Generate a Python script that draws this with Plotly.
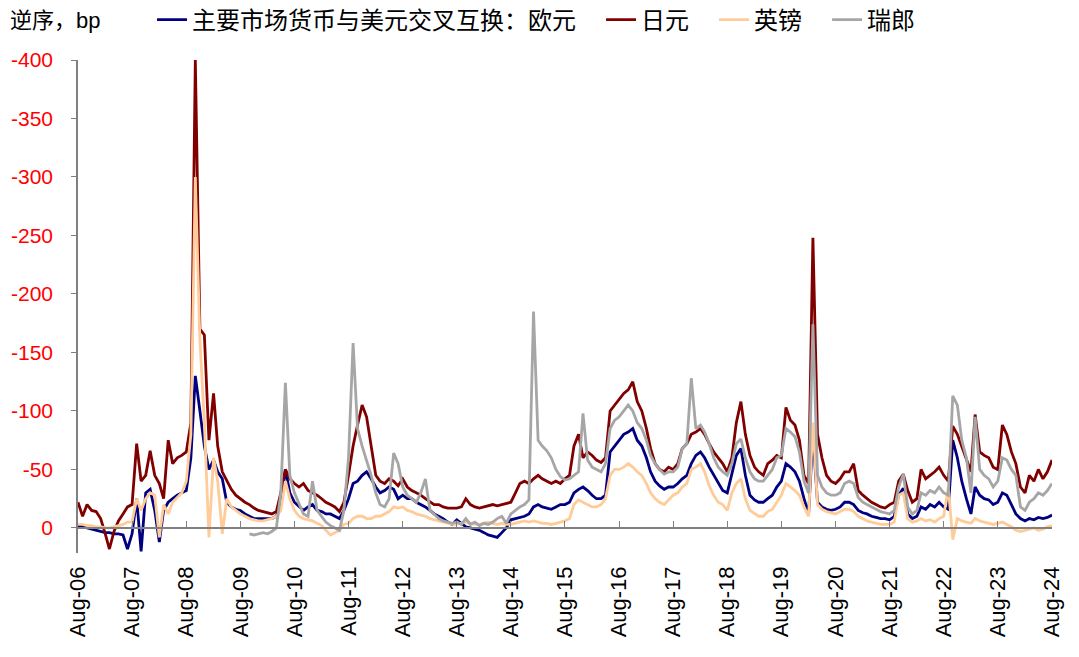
import pandas as pd
import plotly.graph_objects as go

# monthly points, Aug-06 .. Aug-24 (bp, reversed axis)
months = pd.date_range("2006-08-01", "2024-08-01", freq="MS")

eur = [
    -2, -1, 0, 1, 2, 3, 4, 4, 5, 5, 6, 18,
    5, -25, 20, -30, -33, -15, 12, -15, -22, -25, -28, -30,
    -32, -60, -130, -100, -70, -50, -58, -48, -42, -22, -18, -16,
    -15, -12, -10, -8, -8, -8, -8, -8, -10, -20, -50, -30,
    -22, -18, -15, -18, -20, -15, -14, -12, -12, -10, -8, -15,
    -25, -38, -40, -45, -48, -42, -35, -30, -32, -35, -33, -25,
    -28, -25, -25, -22, -20, -18, -15, -12, -10, -8, -5, -3,
    -7, -4, -1, 0, 1, 2, 4, 6, 7, 8, 4, 0,
    -7, -8, -9, -10, -12, -18, -20, -18, -17, -16, -18, -20,
    -20, -22, -30, -33, -35, -32, -28, -25, -25, -28, -65, -70,
    -75, -80, -82, -85, -75, -70, -60, -48, -40, -36, -33, -35,
    -35, -38, -42, -45, -55, -62, -65, -60, -52, -45, -38, -32,
    -30, -45, -62, -68, -45, -28, -24, -22, -22, -25, -28, -35,
    -40, -55, -52, -48, -40, -25, -12, -80, -22, -18, -16, -15,
    -16, -18, -22, -22, -20, -15, -13, -12, -10, -9, -8, -8,
    -7, -10, -28, -34, -12, -8, -10, -18, -16, -20, -18, -22,
    -18, -16, -75, -60, -40, -25, -12, -35, -28, -25, -24, -20,
    -22, -30, -28, -20, -12, -8, -6, -8, -7, -9, -8, -9,
    -11,
]

jpy = [
    -22, -10, -20, -15, -14, -8, 5, 18, 3, -6, -12, -18,
    -20, -72, -40, -45, -66, -45, -38, -25, -75, -55, -60, -62,
    -65, -90, -400, -170, -165, -75, -115, -70, -48, -40, -33, -28,
    -25, -22, -20, -17, -15, -14, -13, -12, -14, -30, -50, -42,
    -38, -35, -38, -32, -30, -28, -25, -22, -20, -18, -14, -22,
    -45, -70, -88, -105, -95, -70, -45, -40, -38, -42, -40, -36,
    -42, -35, -32, -30, -28, -25, -22, -20, -20, -18, -17, -17,
    -17, -18, -25, -20, -18, -17, -18, -19, -20, -19, -20, -21,
    -22, -30, -38, -40, -38, -42, -45, -42, -40, -38, -40, -38,
    -42, -45, -70, -80, -60, -65, -62, -58, -56, -60, -100, -105,
    -110, -115, -118, -125, -108, -100, -85, -68, -55, -50, -48, -52,
    -50, -55, -68, -72, -80, -82, -85, -80, -72, -65, -60, -55,
    -48, -60, -90, -108, -80, -62, -52, -48, -45, -55, -58, -62,
    -60, -103, -92, -88, -75, -45, -38, -248, -80, -60, -45, -40,
    -38, -42, -48, -48, -55, -32, -28, -25, -22, -20, -18, -17,
    -20, -22, -40, -46, -32, -22, -25, -50, -42, -45, -48, -52,
    -45, -40, -87, -80, -70, -58, -48, -97, -65, -62, -60, -52,
    -50, -88, -80, -65, -55, -35, -30, -45, -40, -50, -42, -48,
    -58,
]

gbp = [
    -3, -3, -2, -2, -1, -1, 0, 0, -1, -2, -3, -5,
    -5, -25, -15, -25, -30, -28, 8, -20, -12, -22, -26, -30,
    -40, -80, -300, -160, -90, 8, -60, -40, 5, -25, -18, -15,
    -12, -10, -8, -7, -6, -6, -7, -8, -10, -15, -40, -25,
    -15, -10, -8, -7, -6, -4, -2, 2, 6, 4, 2, -3,
    -4, -8, -10, -10, -8, -8, -10, -10, -12, -14, -18, -17,
    -18, -15, -14, -12, -11, -10, -8, -7, -6, -5, -4, -3,
    -3, -4, -5, -4, -3, -3, -4, -5, -4, -3, -4, -3,
    -3, -4, -5, -6, -5, -6, -5, -4, -4, -3, -4, -5,
    -6, -8, -20, -24, -22, -20, -18, -18, -20, -25, -45, -50,
    -50, -52, -55, -52, -48, -45, -38, -30, -25, -22, -20, -24,
    -28, -30, -35, -38, -50, -52, -55, -48, -36, -28, -22, -20,
    -15, -30, -38, -42, -25, -15, -12, -10, -10, -14, -16, -22,
    -28, -38, -35, -32, -28, -18, -10, -90, -20, -16, -14, -13,
    -12, -14, -16, -16, -14, -10, -8, -6, -5, -4, -3, -3,
    -3, -5, -28, -30, -8, -5, -6, -8, -6, -7, -5, -8,
    -10, -35, 10, -8, -6, -5, -4, -8, -6, -5, -4, -3,
    -4, -5, -3, -1, 2, 3, 2, 1, 0, 2, 1, -1,
    -2,
]

# CHF series starts in Oct-09
chf = [None] * 38 + [
    5, 6, 5, 4, 5, 3, 0, -30, -124, -45,
    -30, -20, -12, -10, -40, -15, -10, -5, -2, 0, 2, -15,
    -60, -158, -85, -70, -58, -45, -30, -20, -18, -25, -64, -55,
    -35, -28, -25, -22, -30, -42, -15, -12, -8, -6, -5, -4,
    -5, -3, -8, -3, -5, -2, -4, -3, -5, -8, -10, -4,
    -12, -15, -18, -20, -24, -185, -75, -70, -66, -60, -50, -44,
    -41, -42, -45, -48, -98, -58, -52, -50, -48, -55, -85, -92,
    -95, -100, -105, -100, -90, -85, -75, -62, -55, -50, -46, -48,
    -48, -52, -68, -72, -128, -85, -88, -82, -72, -60, -52, -48,
    -45, -55, -72, -76, -60, -48, -42, -40, -40, -45, -50, -60,
    -62, -85, -82, -78, -65, -40, -30, -174, -45, -35, -30, -28,
    -28, -30, -38, -40, -38, -26, -22, -20, -18, -16, -14, -13,
    -12, -15, -35, -46, -18, -12, -15, -30, -28, -32, -30, -35,
    -30, -28, -113, -105, -75, -60, -30, -95, -50, -45, -42, -35,
    -40, -60, -58, -50, -45, -18, -15, -22, -25, -30, -28, -32,
    -38,
]

names = ["主要市场货币与美元交叉互换：欧元", "日元", "英镑", "瑞郎"]
colors = ["#000080", "#800000", "#FFCC99", "#A6A6A6"]

tick_dates = pd.date_range("2006-08-01", "2024-08-01", freq="12MS")
tick_text = [d.strftime("Aug-%y") for d in tick_dates]
y_ticks = [0, -50, -100, -150, -200, -250, -300, -350, -400]
y_text = ["0", "-50", "-100", "-150", "-200", "-250", "-300", "-350", "-400"]

font = "Liberation Sans, Arial, Noto Sans CJK SC"
pad = "\u00a0\u00a0\u00a0"  # extra room between legend entries

fig = go.Figure()
for s, n, c in zip([eur, jpy, gbp], names[:3], colors[:3]):
    fig.add_trace(go.Scatter(x=months, y=s, name=n + pad, mode="lines",
                             line=dict(color=c, width=2.8)))
# gray on the overlay axis (it also draws the zero line with ticks)
fig.add_trace(go.Scatter(x=months, y=chf, name=names[3], mode="lines", xaxis="x2",
                         line=dict(color=colors[3], width=2.8)))

xr = [months[0], months[-1]]
# page body has an 8px margin, so the figure is 8px smaller each way
fig.update_layout(
    width=1071, height=649,
    margin=dict(l=70, r=27, t=52, b=104, autoexpand=False),
    plot_bgcolor="white", paper_bgcolor="white",
    font=dict(family=font, size=22, color="black"),
    showlegend=True,
    legend=dict(orientation="h", x=0.076, y=1.081, xanchor="left", yanchor="middle",
                font=dict(size=24), itemwidth=30, tracegroupgap=0),
    xaxis=dict(type="date", range=xr, tickvals=tick_dates, ticktext=tick_text,
               tickangle=-90, showline=False, ticks="", showgrid=False, zeroline=False,
               ticklabelstandoff=8),
    xaxis2=dict(type="date", range=xr, overlaying="x", anchor="free", position=0.0507,
                tickvals=tick_dates, showticklabels=False, ticks="inside", ticklen=6,
                tickcolor="#808080", showline=True, linecolor="#808080", linewidth=1.5,
                showgrid=False, zeroline=False),
    yaxis=dict(range=[21.4, -400], tickvals=y_ticks, ticktext=y_text,
               tickfont=dict(color="#FF0000", size=21), showline=True,
               linecolor="#808080", linewidth=1.5, ticks="outside", ticklen=5,
               tickcolor="#808080", showgrid=False, zeroline=False,
               ticklabelstandoff=14),
    annotations=[dict(text="逆序，bp", xref="paper", yref="paper", x=-0.0715, y=1.081,
                      xanchor="left", yanchor="middle", showarrow=False,
                      font=dict(size=22))],
)

fig.write_html("out.html")
